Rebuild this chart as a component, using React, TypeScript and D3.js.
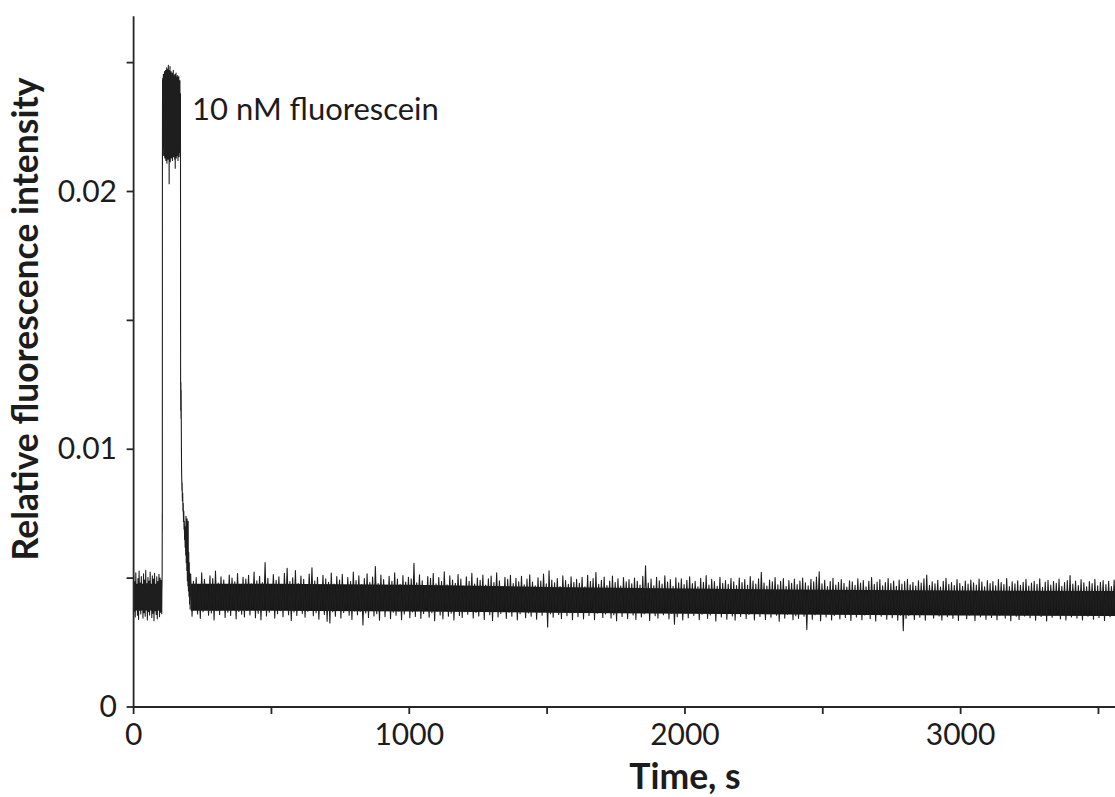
import React from "react";
import * as d3 from "d3";

const WIDTH = 1115;
const HEIGHT = 797;

// Intensity values below are stored in units of 1e-5 (relative intensity)
const UNIT = 1e-5;

// Axis ticks
const xTicks = [0, 500, 1000, 1500, 2000, 2500, 3000, 3500];
const xTickLabels = [0, 1000, 2000, 3000];
const yTicks = [0, 0.005, 0.01, 0.015, 0.02, 0.025];
const yTickLabels = [0, 0.01, 0.02];
const yTickText = ["0", "0.01", "0.02"];

// Baseline before injection: sampled every 4 s, peak (hi) then trough (lo) half a step later
const PRE_STEP_S = 4;
const preHi = [512, 486, 521, 470, 498, 527, 481, 506, 465, 517, 493, 530, 478, 502, 489, 524, 468, 509, 496, 519, 474, 505, 487, 515, 500, 492];
const preLo = [372, 349, 381, 356, 340, 376, 361, 388, 345, 366, 352, 379, 338, 370, 357, 384, 347, 364, 335, 373, 359, 342, 377, 350, 368, 362];

// Fluorescein pulse (rise, plateau, decay)
const pulseTimes = [
  102.5, 103.6, 103.9, 104, 104.1, 104.2, 104.5, 105,
  106, 107, 108, 109, 110, 111, 112, 113, 114, 115, 116, 117, 118, 119, 120, 121,
  122, 123, 124, 125, 126, 127, 128, 129, 130, 131, 132, 133, 134, 135, 136, 137,
  138, 139, 140, 141, 142, 143, 144, 145, 146, 147, 148, 149, 150, 151, 152, 153,
  154, 155, 156, 157, 158, 159, 160, 161, 162, 163, 164, 165, 166, 167, 168, 169,
  170, 170.5, 171, 171.5, 172, 172.5, 173, 173.5, 174, 174.5, 175.5, 176, 177, 178,
  179, 180, 181, 182, 183, 184, 185, 186, 187, 188, 189, 190, 191, 192, 193, 194,
  195, 196, 197, 198, 199, 200, 201, 202, 203, 204, 205, 206,
];
const pulseValues = [
  440, 520, 690, 750, 680, 730, 2050, 2430,
  2440, 2170, 2455, 2140, 2430, 2160, 2465, 2130, 2445, 2150, 2470, 2120, 2450, 2145, 2480, 2110,
  2460, 2150, 2475, 2125, 2490, 2135, 2455, 2030, 2470, 2140, 2485, 2115, 2450, 2155, 2465, 2130,
  2440, 2150, 2460, 2120, 2445, 2145, 2470, 2135, 2450, 2160, 2435, 2125, 2455, 2090, 2440, 2150,
  2460, 2130, 2445, 2155, 2430, 2140, 2450, 2120, 2435, 2150, 2445, 2135, 2425, 2160, 2430, 2150,
  2380, 1270, 1150, 1260, 1120, 1230, 1110, 1000, 920, 890, 840, 870, 800, 830,
  760, 790, 720, 760, 690, 720, 650, 700, 620, 690, 590, 740, 560, 700, 530, 730,
  490, 650, 470, 720, 450, 600, 430, 560, 400, 520, 380, 480,
];

// Baseline after the pulse: sampled every 10 s from 207 s, peak then trough
const POST_START_S = 207;
const POST_STEP_S = 10;
const postHi = [
  515, 488, 502, 472, 521, 495, 466, 509, 498, 527, 481, 505, 493, 474, 512, 500, 486, 518, 469, 503,
  496, 511, 478, 524, 490, 507, 483, 560, 499, 470, 514, 492, 505, 476, 519, 538, 487, 501, 529, 480,
  508, 495, 473, 516, 540, 489, 503, 471, 511, 497, 484, 520, 477, 506, 493, 515, 468, 502, 487, 524,
  491, 509, 475, 498, 517, 483, 504, 545, 479, 512, 494, 470, 507, 488, 521, 496, 476, 510, 485, 503,
  497, 558, 482, 513, 490, 471, 506, 499, 518, 478, 502, 487, 525, 474, 509, 493, 480, 514, 496, 469,
  505, 488, 519, 477, 500, 492, 512, 473, 497, 508, 483, 521, 490, 468, 503, 495, 511, 479, 499, 486,
  507, 474, 496, 513, 485, 470, 501, 489, 516, 478, 528, 493, 482, 498, 467, 509, 491, 476, 505, 484,
  495, 480, 503, 466, 511, 487, 498, 522, 476, 492, 504, 471, 489, 508, 483, 497, 469, 502, 486, 494,
  478, 500, 488, 473, 507, 548, 481, 496, 470, 503, 490, 477, 509, 485, 494, 468, 501, 482, 497, 475,
  492, 505, 479, 488, 466, 499, 484, 510, 473, 495, 487, 468, 503, 480, 491, 476, 498, 486, 471, 500,
  483, 494, 472, 506, 489, 477, 497, 523, 481, 469, 493, 486, 502, 474, 488, 498, 467, 491, 480, 496,
  475, 489, 500, 482, 470, 495, 486, 504, 525, 478, 492, 467, 487, 499, 473, 484, 494, 480, 465, 490,
  486, 472, 497, 481, 491, 466, 488, 502, 476, 485, 494, 470, 483, 498, 479, 489, 468, 493, 477, 487,
  495, 474, 484, 469, 490, 481, 497, 512, 472, 486, 478, 492, 465, 488, 499, 476, 483, 471, 494, 480,
  468, 489, 477, 493, 482, 473, 496, 485, 466, 491, 479, 487, 470, 494, 483, 475, 498, 467, 486, 478,
  490, 472, 484, 495, 469, 481, 488, 476, 497, 464, 485, 492, 473, 487, 480, 496, 468, 483, 491, 510,
  477, 489, 471, 494, 482, 466, 487, 479, 495, 470, 484, 491, 475, 488, 467, 493, 481, 476, 490, 473,
];
const postLo = [
  352, 378, 361, 344, 370, 389, 356, 365, 338, 374, 359, 381, 347, 368, 355, 392, 342, 371, 360, 349,
  375, 357, 383, 346, 364, 339, 377, 353, 368, 386, 345, 362, 374, 350, 381, 358, 336, 369, 355, 379,
  363, 348, 372, 385, 354, 366, 341, 376, 359, 333, 326, 370, 352, 379, 345, 367, 388, 356, 340, 373,
  358, 371, 318, 365, 347, 380, 353, 362, 337, 375, 350, 384, 343, 368, 356, 372, 339, 361, 377, 346,
  369, 351, 378, 344, 363, 386, 348, 366, 335, 373, 357, 342, 381, 352, 364, 338, 376, 355, 347, 370,
  360, 374, 345, 367, 353, 382, 340, 371, 358, 336, 379, 349, 363, 384, 344, 368, 352, 375, 338, 362,
  373, 346, 365, 352, 378, 341, 369, 356, 383, 310, 362, 348, 374, 359, 343, 381, 354, 366, 339, 371,
  350, 377, 342, 368, 355, 386, 339, 364, 372, 347, 361, 379, 345, 358, 335, 370, 351, 383, 343, 366,
  357, 340, 373, 349, 362, 378, 336, 367, 354, 345, 371, 358, 380, 342, 363, 321, 350, 374, 338, 365,
  346, 368, 355, 381, 339, 360, 372, 344, 357, 376, 334, 363, 349, 370, 341, 378, 353, 337, 366, 351,
  371, 343, 359, 374, 338, 365, 351, 379, 340, 362, 348, 369, 356, 333, 375, 345, 360, 382, 339, 354,
  344, 366, 352, 301, 372, 341, 358, 377, 335, 363, 349, 370, 338, 355, 376, 342, 361, 347, 380, 336,
  362, 349, 374, 339, 357, 368, 343, 371, 334, 360, 352, 378, 341, 365, 346, 373, 337, 356, 296, 344,
  355, 372, 340, 363, 348, 376, 337, 359, 367, 345, 370, 353, 338, 374, 350, 362, 344, 379, 336, 358,
  368, 343, 357, 374, 336, 362, 350, 377, 341, 364, 347, 371, 339, 356, 373, 345, 360, 335, 369, 352,
  340, 365, 353, 378, 346, 359, 337, 372, 351, 362, 334, 375, 348, 357, 370, 342, 366, 338, 361, 349,
  373, 345, 360, 338, 369, 352, 376, 341, 358, 347, 371, 336, 363, 350, 377, 344, 359, 339, 368, 355,
];

// Dense core of the noise band (upper / lower edge)
const coreTimes = [0, 102, 207, 500, 1000, 1500, 2000, 2500, 3000, 3560];
const coreHi = [478, 478, 478, 478, 474, 466, 460, 455, 452, 450];
const coreLo = [374, 374, 373, 373, 371, 366, 362, 358, 355, 353];

type Pt = { t: number; v: number };

const FONT = "Lato, 'Open Sans', sans-serif";
const INK = "#1c1c1c";

export default function App() {
  const x = d3.scaleLinear().domain([0, 3560]).range([133.6, 1115]);
  const y = d3.scaleLinear().domain([0, 0.02]).range([707, 191.5]);
  const yTop = 0.0268;

  // Recorded trace: pre-baseline zigzag, pulse, post-baseline zigzag
  const trace: Pt[] = [];
  preHi.forEach((h, i) => {
    const t = i * PRE_STEP_S;
    trace.push({ t, v: h * UNIT });
    trace.push({ t: t + PRE_STEP_S / 2, v: preLo[i] * UNIT });
  });
  pulseTimes.forEach((t, i) => trace.push({ t, v: pulseValues[i] * UNIT }));
  postHi.forEach((h, i) => {
    const t = POST_START_S + i * POST_STEP_S;
    trace.push({ t, v: h * UNIT });
    trace.push({ t: t + POST_STEP_S / 2, v: postLo[i] * UNIT });
  });

  const line = d3
    .line<Pt>()
    .x((d) => x(d.t))
    .y((d) => y(d.v));

  const coreRows = coreTimes.map((t, i) => ({ t, hi: coreHi[i] * UNIT, lo: coreLo[i] * UNIT }));
  const area = d3
    .area<{ t: number; hi: number; lo: number }>()
    .x((d) => x(d.t))
    .y0((d) => y(d.lo))
    .y1((d) => y(d.hi));
  const corePre = area(coreRows.filter((d) => d.t < 150)) || "";
  const corePost = area(coreRows.filter((d) => d.t > 150)) || "";

  const x0 = x(0);
  const y0 = y(0);

  return (
    <svg
      width={WIDTH}
      height={HEIGHT}
      style={{ position: "absolute", left: 0, top: 0, background: "#fff" }}
    >
      <defs>
        <clipPath id="plot-clip">
          <rect x={x0} y={0} width={WIDTH - x0} height={y0} />
        </clipPath>
      </defs>

      <g clipPath="url(#plot-clip)">
        <path d={corePre} fill="#171717" />
        <path d={corePost} fill="#171717" />
        <path d={line(trace) || ""} fill="none" stroke="#1e1e1e" strokeWidth={1.1} strokeLinejoin="round" />
      </g>

      {/* axes */}
      <g stroke="#262626" strokeWidth={1.8} fill="none">
        <line x1={x0} x2={x0} y1={y(yTop)} y2={y0} />
        <line x1={x0} x2={WIDTH} y1={y0} y2={y0} />
        {yTicks.map((v) => (
          <line key={"yt" + v} x1={x0 - 7} x2={x0} y1={y(v)} y2={y(v)} />
        ))}
        {xTicks.map((t) => (
          <line key={"xt" + t} x1={x(t)} x2={x(t)} y1={y0} y2={y0 + 7} />
        ))}
      </g>

      <g fontFamily={FONT} fontSize={30} fill={INK}>
        {yTickLabels.map((v, i) => (
          <text key={"yl" + v} x={117} y={y(v) + 10} textAnchor="end">
            {yTickText[i]}
          </text>
        ))}
        {xTickLabels.map((t) => (
          <text key={"xl" + t} x={x(t)} y={745} textAnchor="middle">
            {t}
          </text>
        ))}
      </g>

      <text x={192} y={120} fontFamily={FONT} fontSize={31} fill={INK}>
        10 nM fluorescein
      </text>

      <text
        x={x(2000)}
        y={789}
        textAnchor="middle"
        fontFamily={FONT}
        fontWeight="bold"
        fontSize={35.5}
        fill={INK}
      >
        Time, s
      </text>

      <text
        transform={`translate(38, 319) rotate(-90)`}
        textAnchor="middle"
        fontFamily={FONT}
        fontWeight="bold"
        fontSize={35.5}
        fill={INK}
      >
        Relative fluorescence intensity
      </text>
    </svg>
  );
}
